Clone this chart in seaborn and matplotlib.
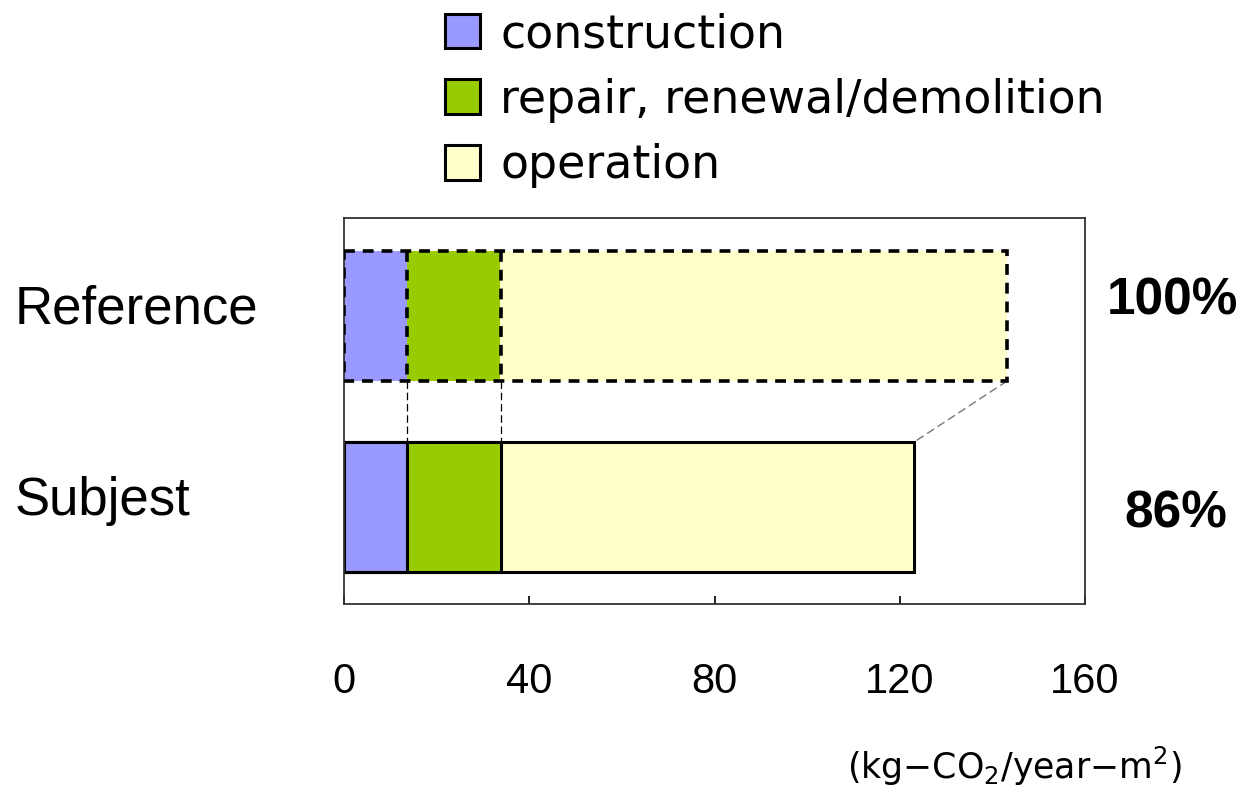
import matplotlib
matplotlib.use("Agg")
import matplotlib.pyplot as plt
import matplotlib.transforms as mtransforms
from matplotlib.patches import Patch, Rectangle
import seaborn as sns

# ----------------------------------------
# data (kg-CO2/year-m2)
# ----------------------------------------
cases = ["Reference", "Subjest"]
construction = [13.5, 13.6]
repair = [20.2, 20.3]
operation = [109.5, 89.2]
pct_labels = ["100%", "86%"]

components = ["construction", "repair, renewal/demolition", "operation"]
colors = ["#9999FF", "#99CC00", "#FFFFCC"]

sns.set_style("white")
plt.rcParams["font.family"] = ["DejaVu Sans"]
plt.rcParams["text.color"] = "black"
plt.rcParams["xtick.color"] = "black"

fig = plt.figure(figsize=(12.47, 7.86), dpi=100)
ax = fig.add_axes([344 / 1247, 1 - 604 / 786, 741 / 1247, 386 / 786])

cum1 = [c for c in construction]
cum2 = [c + r for c, r in zip(construction, repair)]
cum3 = [c + r + o for c, r, o in zip(construction, repair, operation)]

bar_w = 0.68
# draw totals first, then overlay shorter cumulative bars
for vals, col in zip([cum3, cum2, cum1], colors[::-1]):
    sns.barplot(x=vals, y=cases, color=col, width=bar_w, orient="h",
                edgecolor="black", linewidth=2.2, ax=ax, saturation=1)

# reference bar: no solid edges, dashed outline instead
for i, p in enumerate(ax.patches):
    if i % 2 == 0:
        p.set_linewidth(0)

ref_top, ref_bot = 0 - bar_w / 2, 0 + bar_w / 2
sub_top = 1 - bar_w / 2
ax.add_patch(Rectangle((0, ref_top), cum3[0], bar_w, fill=False,
                       edgecolor="black", linewidth=2.6, linestyle=(0, (3, 2.2)),
                       zorder=5))
# boundary guides from the subject bar up through the reference bar
for xb in [cum1[1], cum2[1]]:
    ax.plot([xb, xb], [ref_top, ref_bot], color="black", linewidth=2.6,
            linestyle=(0, (3, 2.2)), zorder=5)
    ax.plot([xb, xb], [ref_bot, sub_top], color="black", linewidth=0.9,
            linestyle=(0, (6, 3)), zorder=4)
ax.plot([cum3[0], cum3[1]], [ref_bot, sub_top], color="#777777",
        linewidth=1.0, linestyle=(0, (6, 3)), zorder=4)

ax.set_xlim(0, 160)
ax.set_ylim(1 + 97 / 191, -98 / 191)
ax.set_xticks([0, 40, 80, 120, 160])
ax.set_yticks([])
ax.set_xlabel("")
ax.set_ylabel("")
ax.tick_params(axis="x", direction="in", length=6, width=1.2, pad=42,
               labelsize=30, bottom=True, colors="black")
for lab in ax.get_xticklabels():
    lab.set_fontfamily(["Liberation Sans Narrow", "Liberation Sans"])
    lab.set_color("black")
for s in ax.spines.values():
    s.set_linewidth(1.3)
    s.set_color("#333333")

# category labels at the far left (baseline a little below bar centre)
trans = mtransforms.blended_transform_factory(ax.transAxes, ax.transData)
trans_lab = mtransforms.offset_copy(trans, fig=fig, y=-8, units="dots")
for i, name in enumerate(cases):
    ax.text(-329 / 741, i, name, transform=trans_lab, ha="left",
            va="baseline", fontsize=38, family=["Liberation Sans"],
            color="black")

# percentage labels on the right
pct_x = [1172, 1176]
pct_base = [315, 528]
for lab, px, py in zip(pct_labels, pct_x, pct_base):
    fig.text(px / 1247, 1 - py / 786, lab, ha="center", va="baseline",
             fontsize=37, fontweight="bold", family=["Liberation Sans"],
             color="black")

handles = [Patch(facecolor=c, edgecolor="black", linewidth=2.2) for c in colors]
fig.legend(handles, components, loc="upper left",
           bbox_to_anchor=(445 / 1247, 1 - 12 / 786), frameon=False,
           fontsize=33, handlelength=0.76, handleheight=0.78,
           handletextpad=0.45, labelspacing=0.45, borderpad=0,
           borderaxespad=0, labelcolor="black")

fig.text(1014 / 1247, 1 - 766 / 786, "(kg\u2212CO$_2$/year\u2212m$^2$)",
         ha="center", va="center", fontsize=25, color="black")

fig.savefig("out.png", dpi=100)
